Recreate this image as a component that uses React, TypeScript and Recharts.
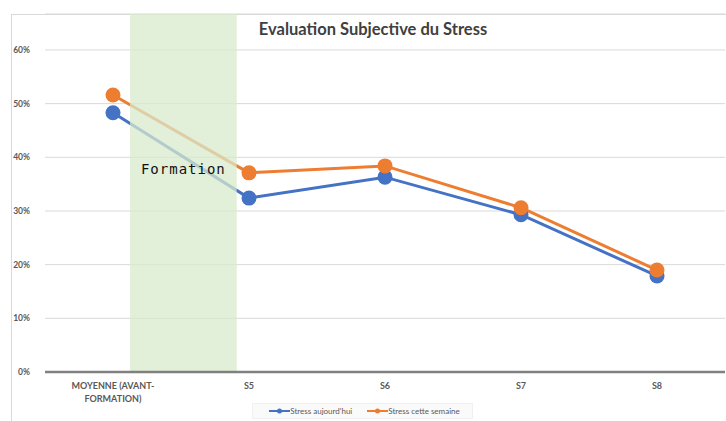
import { LineChart, Line, XAxis, YAxis, CartesianGrid, Legend, ReferenceArea } from 'recharts'

const categories = ['MOYENNE (AVANT-FORMATION)', 'S5', 'S6', 'S7', 'S8']
const stressToday = [48.3, 32.4, 36.3, 29.3, 17.9]
const stressWeek = [51.6, 37.1, 38.4, 30.6, 19.0]
const yTicks = [0, 10, 20, 30, 40, 50, 60]

const BLUE = '#4472c4'
const ORANGE = '#ed7d31'
const FONT = 'Lato, "Open Sans", sans-serif'

const data = categories.map((name, i) => ({
  idx: i,
  name,
  today: stressToday[i],
  week: stressWeek[i],
}))

// splits "MOYENNE (AVANT-FORMATION)" after the hyphen, like Excel does
const CategoryTick = ({ x, y, payload }: any) => {
  const label = categories[payload.value] ?? ''
  const cut = label.indexOf('-')
  const lines = cut > 0 ? [label.slice(0, cut + 1), label.slice(cut + 1)] : [label]
  return (
    <text x={x} y={y} textAnchor="middle" fill="#595959" fontSize={9} fontWeight={700} fontFamily={FONT}>
      {lines.map((l, i) => (
        <tspan key={i} x={x} dy={i === 0 ? 9 : 13}>
          {l}
        </tspan>
      ))}
    </text>
  )
}

const LegendContent = () => {
  const items = [
    { label: "Stress aujourd'hui", color: BLUE },
    { label: 'Stress cette semaine', color: ORANGE },
  ]
  return (
    <div style={{ display: 'flex', justifyContent: 'center', height: 18, alignItems: 'center' }}>
      <div
        style={{
          display: 'flex',
          alignItems: 'center',
          gap: 15,
          padding: '2px 12px 2px 16px',
          background: '#fafafa',
          border: '1px solid #f0f0f0',
        }}
      >
        {items.map((it) => (
          <div key={it.label} style={{ display: 'flex', alignItems: 'center' }}>
            <svg width={21} height={6}>
              <line x1={0} y1={3} x2={21} y2={3} stroke={it.color} strokeWidth={2} />
              <circle cx={10.5} cy={3} r={2.5} fill={it.color} />
            </svg>
            <span style={{ fontSize: 8, color: '#595959', fontFamily: FONT }}>{it.label}</span>
          </div>
        ))}
      </div>
    </div>
  )
}

export default function App() {
  return (
    <div style={{ position: 'absolute', left: 0, top: 0, width: 726, height: 421, background: '#fff', overflow: 'hidden' }}>
      <div
        style={{
          position: 'absolute',
          left: 11,
          top: 14,
          width: 740,
          height: 440,
          border: '1px solid #d9d9d9',
        }}
      />
      <LineChart
        width={726}
        height={421}
        data={data}
        margin={{ top: 14, right: 1, left: 0, bottom: 1 }}
        style={{ position: 'absolute', left: 0, top: 0 }}
      >
        <CartesianGrid vertical={false} stroke="#d9d9d9" />
        <XAxis
          dataKey="idx"
          type="number"
          domain={[-0.5, 4.5]}
          ticks={[0, 1, 2, 3, 4]}
          tick={<CategoryTick />}
          tickLine={false}
          axisLine={{ stroke: '#808080', strokeWidth: 2.5 }}
          height={30}
          interval={0}
        />
        <YAxis
          domain={[0, 66.7]}
          ticks={yTicks}
          tickFormatter={(v) => `${v}%`}
          tick={{ fill: '#595959', fontSize: 8.5, fontWeight: 700, fontFamily: FONT }}
          axisLine={false}
          tickLine={false}
          tickMargin={9}
          width={45}
          allowDataOverflow
        />
        <Legend verticalAlign="bottom" height={18} content={<LegendContent />} />
        <Line
          dataKey="today"
          stroke={BLUE}
          strokeWidth={3}
          dot={{ r: 7.5, fill: BLUE, stroke: 'none' }}
          isAnimationActive={false}
        />
        <Line
          dataKey="week"
          stroke={ORANGE}
          strokeWidth={3}
          dot={{ r: 7.5, fill: ORANGE, stroke: 'none' }}
          isAnimationActive={false}
        />
        <ReferenceArea
          x1={0.125}
          x2={0.91}
          fill="#d8eacc"
          fillOpacity={0.75}
          stroke="none"
          zIndex={450}
          label={{
            value: 'Formation',
            position: 'insideTop',
            offset: 150,
            fill: '#111',
            fontSize: 14,
            letterSpacing: 1,
            fontFamily: '"DejaVu Sans Mono", monospace',
          }}
        />
      </LineChart>
      <div
        style={{
          position: 'absolute',
          left: 0,
          width: 746,
          top: 19,
          textAlign: 'center',
          fontFamily: FONT,
          fontWeight: 700,
          fontSize: 16.5,
          color: '#404040',
        }}
      >
        Evaluation Subjective du Stress
      </div>
    </div>
  )
}
